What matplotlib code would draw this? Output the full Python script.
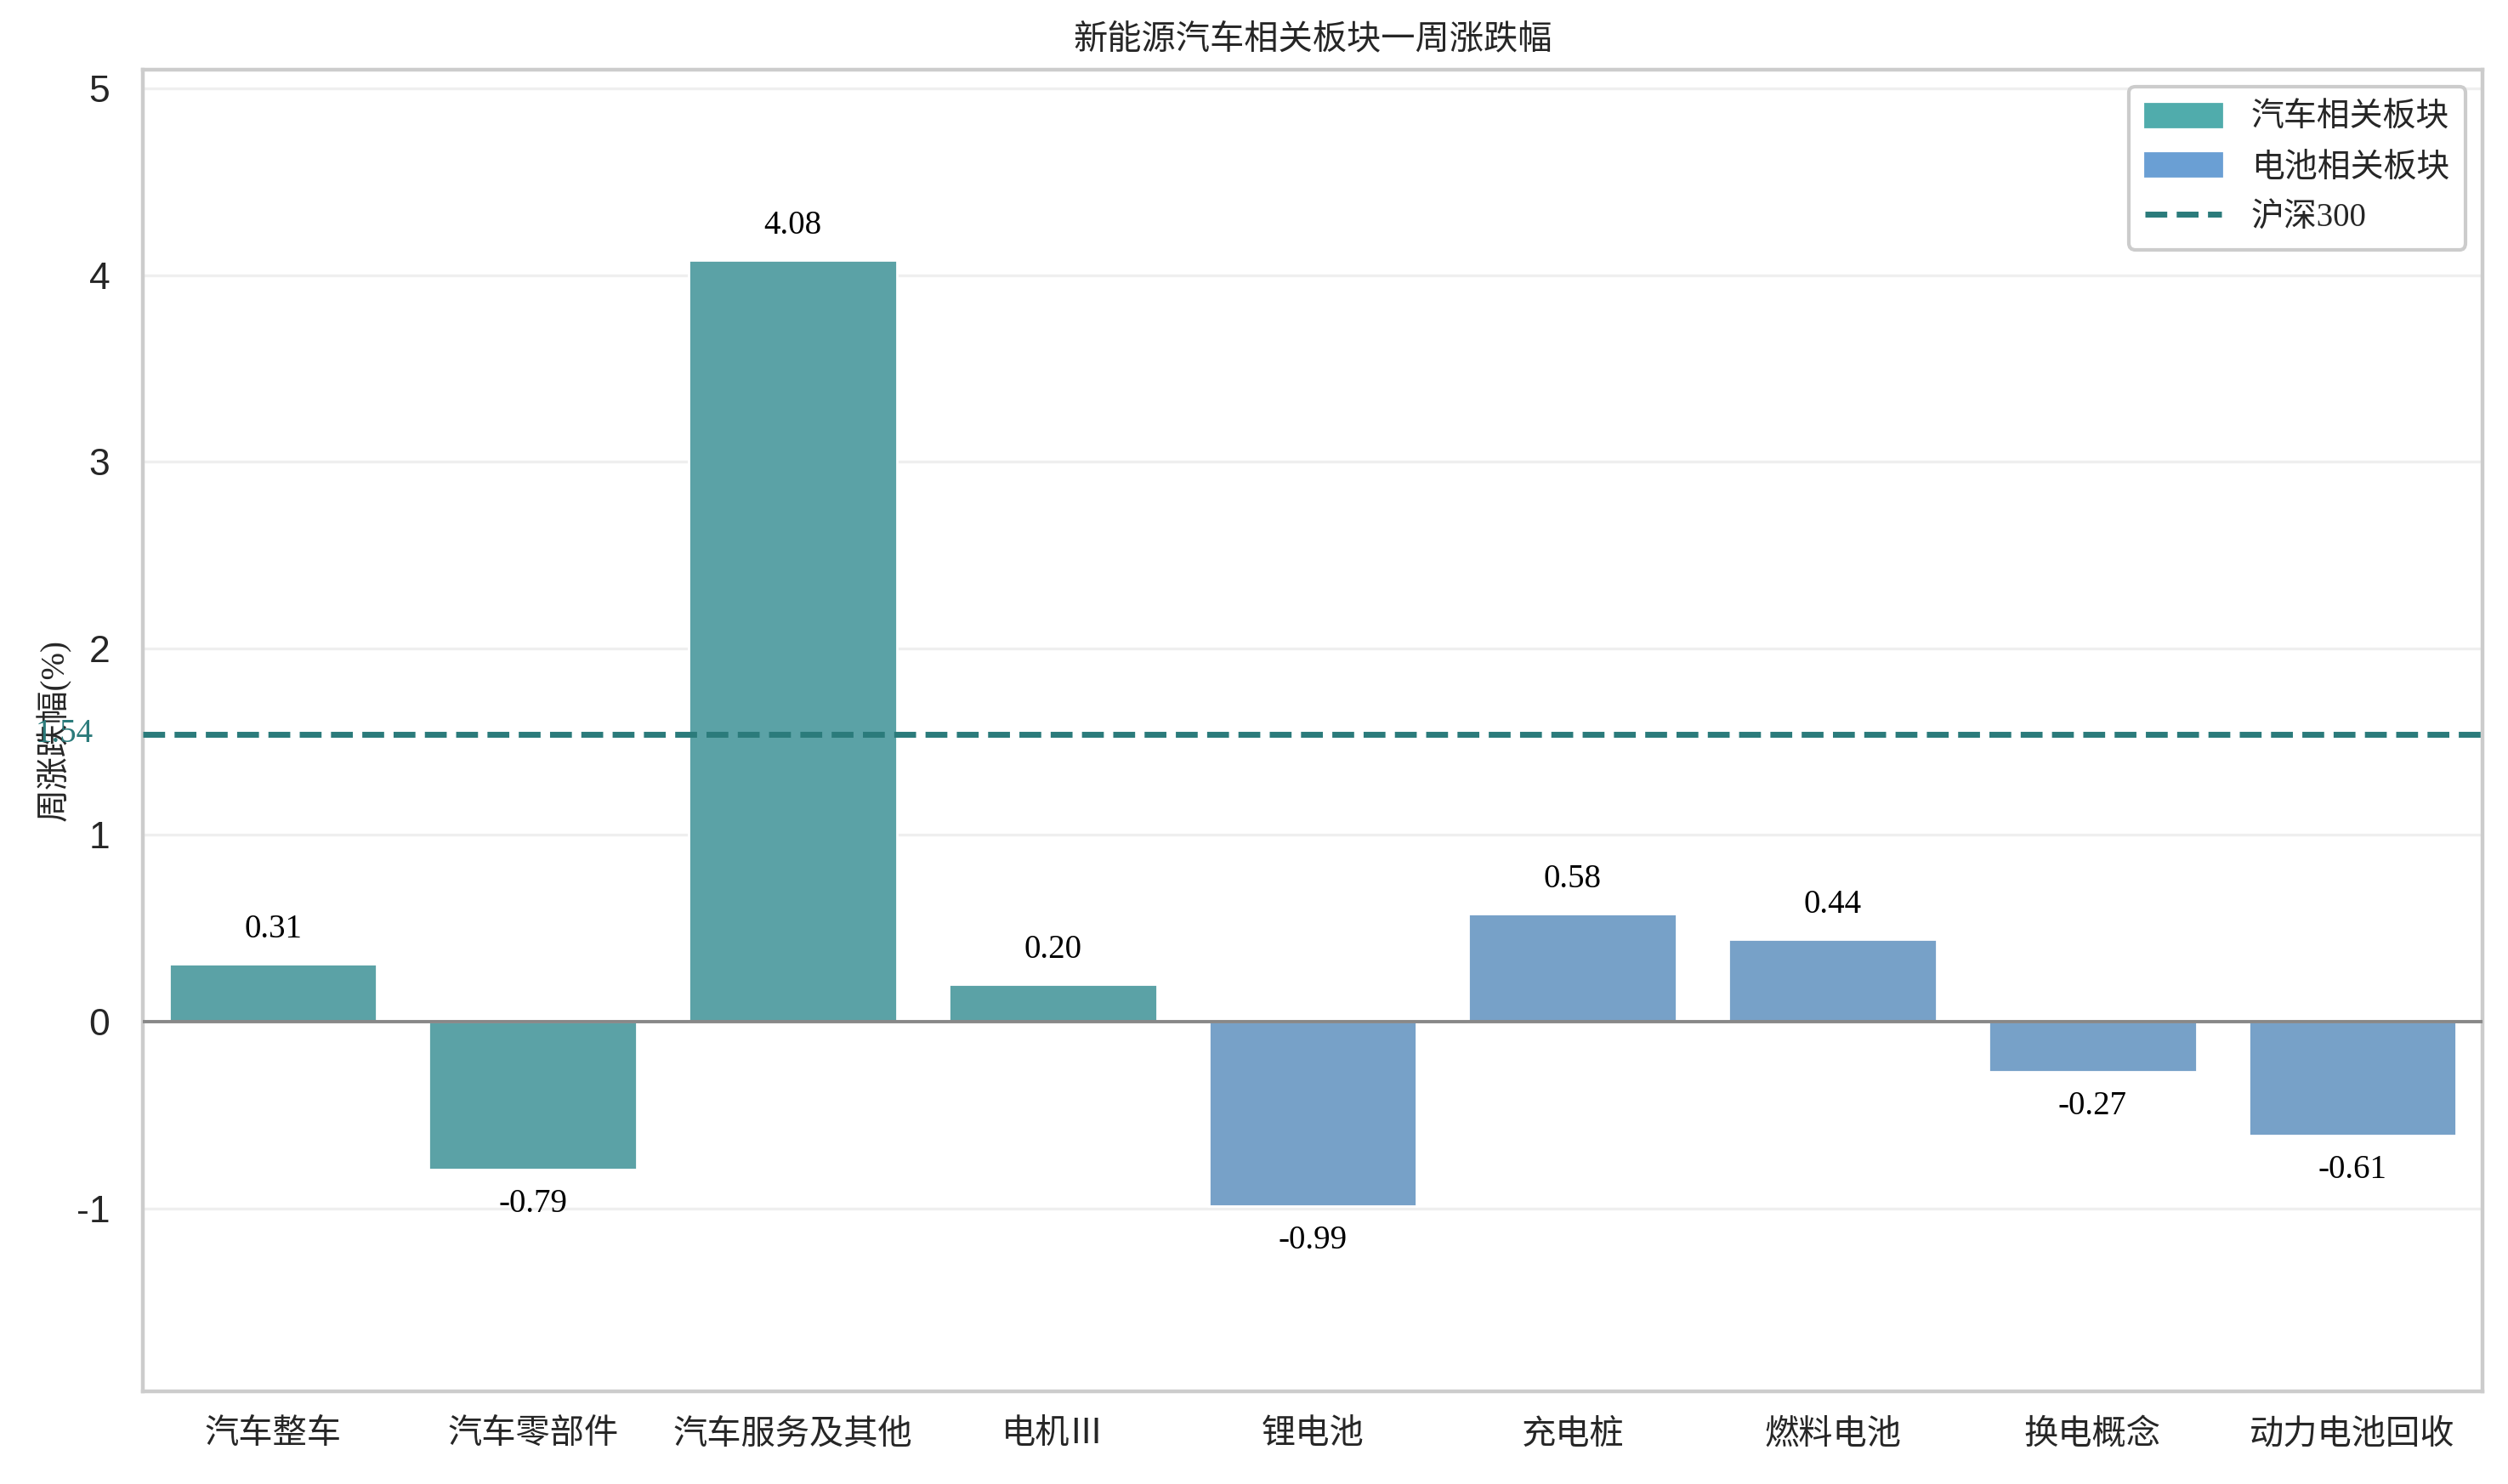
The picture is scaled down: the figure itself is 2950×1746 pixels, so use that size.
import matplotlib
matplotlib.use('Agg')
import matplotlib.pyplot as plt
import seaborn as sns
from matplotlib.patches import Patch
from matplotlib.lines import Line2D

sns.set_style('whitegrid')
plt.rcParams['font.family'] = ['Liberation Serif', 'Noto Sans CJK SC']
plt.rcParams['axes.unicode_minus'] = False

sectors = ['汽车整车', '汽车零部件', '汽车服务及其他', '电机Ⅲ', '锂电池',
           '充电桩', '燃料电池', '换电概念', '动力电池回收']
changes = [0.31, -0.79, 4.08, 0.20, -0.99, 0.58, 0.44, -0.27, -0.61]
groups = ['car', 'car', 'car', 'car', 'battery', 'battery', 'battery', 'battery', 'battery']
hs300 = 1.54

bar_colors = {'car': '#5BA2A6', 'battery': '#77A1C8'}
legend_colors = {'car': '#50ACAC', 'battery': '#6A9FD4'}
line_color = '#2B7B7B'

fig = plt.figure(figsize=(14.75, 8.73), dpi=200)
ax = fig.add_axes([0.057, 0.0625, 0.9328, 0.8905])

x = list(range(len(sectors)))
ax.bar(x, changes, width=0.8, color=[bar_colors[g] for g in groups], zorder=2)

# value labels above / below bars
for i, v in enumerate(changes):
    if v >= 0:
        ax.text(i, v + 0.1, f'{v:.2f}', ha='center', va='bottom', fontsize=14, color='black')
    else:
        ax.text(i, v - 0.1, f'{v:.2f}', ha='center', va='top', fontsize=14, color='black')

ax.axhline(0, color='#888888', lw=1.4, zorder=3)
ax.axhline(hs300, color=line_color, lw=2.5, ls='--', zorder=4)
ax.text(-0.69, hs300, f'{hs300:.2f}', ha='right', va='center', fontsize=14, color=line_color)

ax.set_xlim(-0.5, len(sectors) - 0.5)
ax.set_ylim(min(changes) * 2, max(changes) * 1.25)
ax.set_xticks(x)
ax.set_xticklabels(sectors, fontsize=14.5, color='#262626')
ax.set_yticks([-1, 0, 1, 2, 3, 4, 5])
ax.set_yticklabels(['-1', '0', '1', '2', '3', '4', '5'], fontsize=16,
                   family='Liberation Sans', color='#262626')
ax.tick_params(axis='x', length=0, pad=12)
ax.tick_params(axis='y', length=0, pad=14)
ax.xaxis.grid(False)
ax.yaxis.grid(True, color='#EFEFEF', lw=1.2)
for s in ax.spines.values():
    s.set_color('#CCCCCC')
    s.set_linewidth(1.6)

ax.set_ylabel('周涨跌幅(%)', fontsize=14, color='#262626', labelpad=2)
ax.set_title('新能源汽车相关板块一周涨跌幅', fontsize=14.5, color='#262626', pad=9)

handles = [Patch(color=legend_colors['car'], label='汽车相关板块'),
           Patch(color=legend_colors['battery'], label='电池相关板块'),
           Line2D([0], [0], color=line_color, lw=2.5, ls='--', label='沪深300')]
leg = ax.legend(handles=handles, loc='upper right', fontsize=14, handlelength=2.3,
                handletextpad=0.9, labelspacing=0.55, borderpad=0.5,
                frameon=True, edgecolor='#CCCCCC', framealpha=1)
leg.get_frame().set_linewidth(1.5)

fig.savefig('out.png', dpi=200)
